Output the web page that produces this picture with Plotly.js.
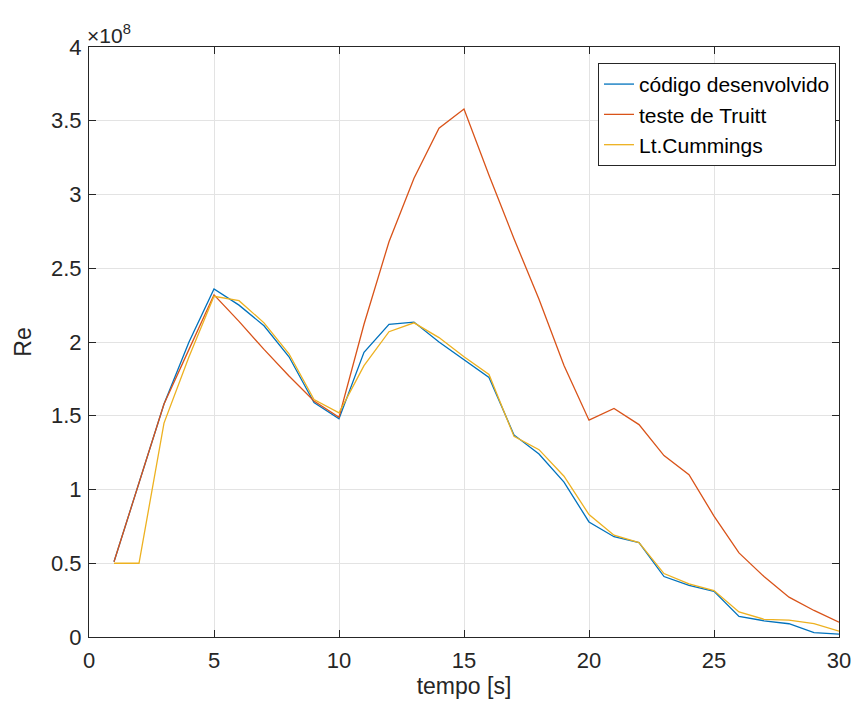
<!DOCTYPE html>
<html>
<head>
<meta charset="utf-8">
<script src="https://cdn.plot.ly/plotly-3.0.1.min.js"></script>
<style>html,body{margin:0;padding:0;background:#fff;}#chart{width:857px;height:713px;}</style>
</head>
<body>
<div id="chart"></div>
<script>
// time [s]
const tempo = [1,2,3,4,5,6,7,8,9,10,11,12,13,14,15,16,17,18,19,20,21,22,23,24,25,26,27,28,29,30];
// Re values in units of 1e8
const codigoDesenvolvido = [0.51,1.05,1.58,2.00,2.36,2.25,2.11,1.90,1.59,1.48,1.93,2.12,2.135,2.00,1.88,1.76,1.37,1.24,1.05,0.78,0.68,0.64,0.41,0.35,0.31,0.14,0.11,0.09,0.03,0.02];
const testeTruitt = [0.51,1.05,1.58,1.95,2.32,2.14,1.95,1.77,1.60,1.49,2.12,2.68,3.11,3.45,3.58,3.13,2.70,2.29,1.84,1.47,1.55,1.44,1.23,1.10,0.82,0.57,0.41,0.27,0.18,0.10];
const ltCummings = [0.50,0.50,1.45,1.90,2.31,2.28,2.13,1.92,1.61,1.52,1.84,2.07,2.13,2.03,1.90,1.78,1.36,1.27,1.09,0.83,0.69,0.64,0.43,0.36,0.315,0.17,0.12,0.115,0.09,0.04];
const seriesNames = ['código desenvolvido','teste de Truitt','Lt.Cummings'];
const yTickVals = [0,0.5,1,1.5,2,2.5,3,3.5,4];
const yTickText = ['0','0.5','1','1.5','2','2.5','3','3.5','4'];
const xTickVals = [0,5,10,15,20,25,30];
const scale = 1e8;

const colors = ['#0072BD','#D95319','#EDB120'];
const dataSets = [codigoDesenvolvido, testeTruitt, ltCummings];
const traces = dataSets.map((d,i)=>({
  x: tempo,
  y: d.map(v=>v*scale),
  type:'scatter', mode:'lines', name: seriesNames[i],
  line:{color:colors[i], width:1.3}
}));

const fontFam = 'Liberation Sans, Arial, Helvetica, sans-serif';
const layout = {
  width:857, height:713,
  margin:{l:89, r:18, t:47, b:76},
  paper_bgcolor:'#fff', plot_bgcolor:'#fff',
  font:{family:fontFam, size:22, color:'#262626'},
  showlegend:true,
  legend:{x:0.996, xanchor:'right', y:0.973, yanchor:'top',
    bordercolor:'#262626', borderwidth:1, bgcolor:'#fff',
    font:{family:fontFam, size:21, color:'#000'}, tracegroupgap:0, itemwidth:30},
  xaxis:{range:[0,30], tickvals:xTickVals, ticktext:xTickVals.map(String),
    showgrid:true, gridcolor:'#e3e3e3', gridwidth:1,
    showline:true, linecolor:'#262626', linewidth:1, mirror:'ticks',
    ticks:'inside', ticklen:7, tickcolor:'#262626',
    zeroline:false, tickfont:{size:22, color:'#262626'}, ticklabelstandoff:4,
    title:{text:'tempo [s]', font:{size:23, color:'#262626'}, standoff:2}},
  yaxis:{range:[0,4*scale], tickvals:yTickVals.map(v=>v*scale), ticktext:yTickText,
    showgrid:true, gridcolor:'#e3e3e3', gridwidth:1,
    showline:true, linecolor:'#262626', linewidth:1, mirror:'ticks',
    ticks:'inside', ticklen:7, tickcolor:'#262626',
    zeroline:false, tickfont:{size:22, color:'#262626'}, ticklabelstandoff:2,
    title:{text:'Re', font:{size:23, color:'#262626'}, standoff:12}},
  annotations:[{xref:'paper', yref:'paper', x:0, y:1, xanchor:'left', yanchor:'bottom',
    text:'×10<sup>8</sup>', showarrow:false, font:{size:21, color:'#262626'}, yshift:-2, xshift:-4}]
};
Plotly.newPlot('chart', traces, layout, {displayModeBar:false, staticPlot:true});
</script>
</body>
</html>
